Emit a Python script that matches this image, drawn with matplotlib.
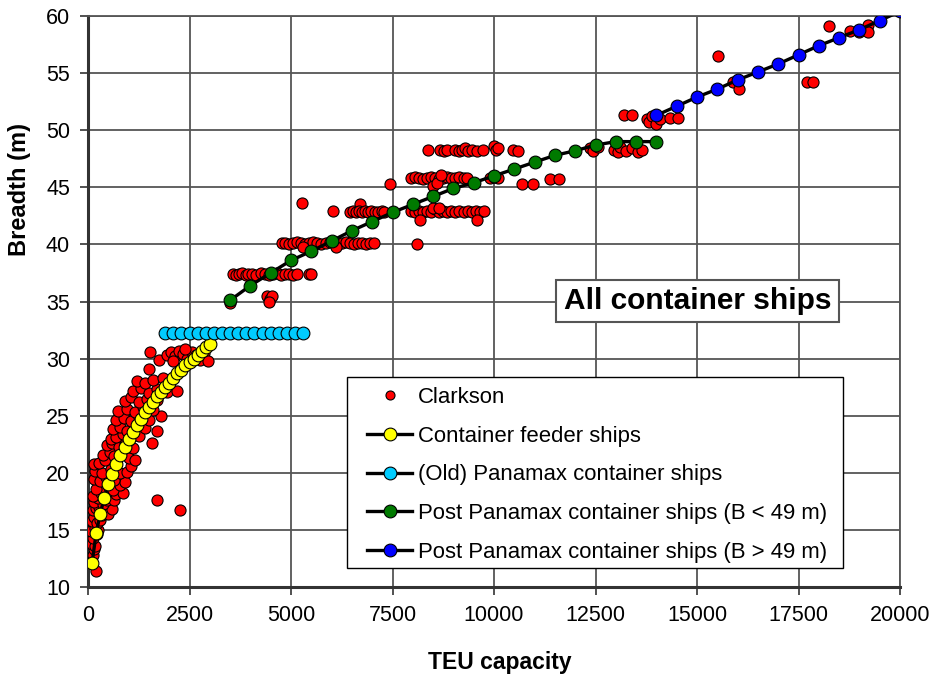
import matplotlib
matplotlib.use("Agg")
import matplotlib.pyplot as plt
from matplotlib.lines import Line2D
from matplotlib.patches import Rectangle

# ---------------- data ----------------
feeder_teu = [100, 200, 300, 400, 500, 600, 700, 800, 900, 1000, 1100, 1200, 1300, 1400, 1500,
              1600, 1700, 1800, 1900, 2000, 2100, 2200, 2300, 2400, 2500, 2600, 2700, 2800, 2900, 3000]
feeder_b = [12.1, 14.7, 16.4, 17.8, 19.0, 19.9, 20.8, 21.6, 22.3, 23.0, 23.6, 24.2, 24.7, 25.3, 25.8,
            26.2, 26.7, 27.1, 27.5, 27.9, 28.3, 28.7, 29.0, 29.4, 29.7, 30.0, 30.3, 30.7, 31.0, 31.3]

panamax_teu = [1900, 2100, 2300, 2500, 2700, 2900, 3100, 3300, 3500, 3700, 3900, 4100, 4300, 4500,
               4700, 4900, 5100, 5300]
panamax_b = [32.2] * 18

post_small_teu = [3500, 4000, 4500, 5000, 5500, 6000, 6500, 7000, 7500, 8000, 8500, 9000, 9500,
                  10000, 10500, 11000, 11500, 12000, 12500, 13000, 13500, 14000]
post_small_b = [35.1, 36.4, 37.5, 38.6, 39.4, 40.3, 41.2, 42.0, 42.8, 43.5, 44.2, 44.9, 45.4,
                46.0, 46.6, 47.2, 47.8, 48.2, 48.7, 49.0, 49.0, 49.0]

post_large_teu = [14000, 14500, 15000, 15500, 16000, 16500, 17000, 17500, 18000, 18500, 19000, 19500, 20000]
post_large_b = [51.3, 52.1, 52.9, 53.6, 54.4, 55.1, 55.8, 56.6, 57.4, 58.1, 58.8, 59.6, 60.4]

clarkson_points = [
    # feeder ships
    (200, 11.4), (120, 12.8), (150, 13.3), (100, 13.8), (180, 13.6), (130, 14.3), (220, 14.6),
    (80, 14.9), (170, 15.2), (250, 15.0), (100, 15.8), (160, 16.1), (230, 15.6), (300, 15.9),
    (350, 16.3), (420, 16.6), (500, 16.4), (600, 16.8), (130, 16.7), (200, 16.9), (280, 17.0),
    (150, 17.4), (380, 17.3), (250, 17.8), (460, 17.6), (550, 17.9), (650, 17.6), (120, 18.0),
    (320, 18.2), (420, 18.4), (700, 18.1), (860, 18.2), (200, 18.6), (520, 18.8), (620, 18.5),
    (780, 18.9), (900, 19.2), (150, 19.5), (300, 19.3), (450, 19.6), (650, 19.4), (180, 20.2),
    (350, 20.0), (560, 20.3), (800, 20.0), (950, 20.1), (160, 20.8), (270, 20.9), (420, 21.1),
    (700, 20.8), (1050, 20.6), (380, 21.6), (540, 21.8), (650, 21.5), (850, 21.7), (1000, 21.3),
    (1150, 21.1), (480, 22.4), (600, 22.6), (760, 22.3), (900, 22.5), (1100, 22.2), (560, 23.0),
    (700, 23.1), (850, 23.4), (1000, 22.9), (1250, 23.2), (620, 23.8), (780, 24.0), (950, 23.7),
    (1150, 24.1), (1400, 23.9), (700, 24.6), (880, 24.8), (1050, 24.5), (1250, 24.9), (1500, 24.6),
    (1800, 25.0), (750, 25.4), (950, 25.6), (1150, 25.3), (1350, 25.8), (1600, 25.5), (900, 26.3),
    (1050, 26.6), (1250, 26.2), (1450, 26.5), (1700, 26.4), (1100, 27.2), (1300, 27.4), (1500, 27.0),
    (1700, 27.3), (1950, 27.1), (2200, 27.2), (1200, 28.0), (1400, 27.9), (1600, 28.1), (1850, 28.3),
    (1500, 29.1), (1750, 29.9), (1530, 30.6), (1950, 30.3), (2050, 30.6), (2150, 30.2), (2250, 30.7),
    (2350, 30.4), (2450, 30.0), (2550, 30.6), (2650, 30.3), (2750, 29.9), (2850, 30.5), (2950, 29.8),
    (2100, 29.8), (2400, 30.8), (1707, 23.7), (1568, 22.6), (1692, 17.6), (2258, 16.7),
    # 3500 - 5500 TEU
    (3500, 34.9), (4400, 35.5), (4480, 35.2), (4540, 35.5), (4470, 35.0),
    (3580, 37.4), (3650, 37.3), (3720, 37.4), (3800, 37.5), (3880, 37.3), (3950, 37.4), (4050, 37.4),
    (4150, 37.3), (4250, 37.5), (4350, 37.4), (4450, 37.3), (4550, 37.4), (4650, 37.5), (4750, 37.3),
    (4850, 37.4), (4950, 37.4), (5050, 37.3), (5150, 37.4), (5450, 37.4), (5500, 37.4),
    # B ~ 40 row
    (4780, 40.1), (4860, 40.1), (4950, 40.0), (5050, 40.1), (5150, 40.2), (5250, 40.1), (5350, 40.0),
    (5450, 40.1), (5550, 40.2), (5650, 40.1), (5750, 40.0), (5850, 40.1), (5950, 40.2), (6050, 40.1),
    (6150, 40.0), (6250, 40.1), (6350, 40.2), (6450, 40.1), (6550, 40.0), (6650, 40.1), (6750, 40.1),
    (6850, 40.0), (6950, 40.1), (7050, 40.1), (5300, 39.8), (6100, 39.8), (8100, 40.0),
    # outliers
    (5263, 43.6), (6026, 42.9), (6700, 43.5), (7440, 45.3),
    # B ~ 42.8 row
    (6450, 42.8), (6530, 42.9), (6600, 42.8), (6680, 42.9), (6750, 42.8), (6830, 42.9), (6900, 42.8),
    (6980, 42.9), (7060, 42.8), (7150, 42.8), (7230, 42.9), (7300, 42.8),
    (7950, 42.9), (8050, 42.8), (8150, 42.9), (8250, 42.8), (8350, 42.9), (8450, 42.8), (8550, 43.1),
    (8650, 42.8), (8750, 42.9), (8850, 42.8), (8950, 42.9), (9050, 42.8), (9150, 42.9), (9250, 42.8),
    (9350, 42.9), (9450, 42.8), (9550, 42.9), (9650, 42.8), (9750, 42.9), (8180, 42.1), (9570, 42.1),
    (8500, 43.2), (8650, 43.2),
    # B ~ 45.8 row
    (7950, 45.8), (8050, 45.9), (8150, 45.8), (8250, 45.7), (8350, 45.8), (8450, 45.9), (8550, 45.8),
    (8650, 45.7), (8750, 45.8), (8850, 45.9), (8950, 45.8), (9050, 45.8), (9150, 45.9), (9250, 45.8),
    (9330, 45.8), (8500, 45.1), (8600, 45.4), (8700, 46.1), (9900, 45.8), (10000, 45.9), (10100, 45.8),
    (10700, 45.3), (10970, 45.3), (11380, 45.7), (11600, 45.7),
    # B ~ 48.3 row
    (8380, 48.3), (8680, 48.3), (8780, 48.2), (8840, 48.3), (9050, 48.3), (9130, 48.2), (9200, 48.3),
    (9280, 48.4), (9350, 48.2), (9450, 48.3), (9580, 48.2), (9730, 48.3), (9990, 48.6), (10050, 48.3),
    (10100, 48.4), (10480, 48.3), (10600, 48.2),
    # 12000 - 15000 TEU
    (12360, 48.4), (12450, 48.2), (12560, 48.5), (12950, 48.3), (13050, 48.1), (13100, 48.5),
    (13250, 48.2), (13400, 48.4), (13550, 48.1), (13650, 48.3),
    (13200, 51.3), (13390, 51.3), (13760, 51.0), (13830, 50.7), (13900, 51.2), (14000, 50.5),
    (14100, 51.0), (14330, 51.1), (14520, 51.1),
    # ultra large
    (15525, 56.5), (15895, 54.2), (16042, 53.6), (17700, 54.2), (17850, 54.2), (18260, 59.15),
    (18770, 58.7), (19000, 58.6), (19220, 59.2), (19220, 58.6),
]

clarkson_teu = [p[0] for p in clarkson_points]
clarkson_b = [p[1] for p in clarkson_points]

legend_labels = ["Clarkson", "Container feeder ships", "(Old) Panamax container ships",
                 "Post Panamax container ships (B < 49 m)", "Post Panamax container ships (B > 49 m)"]

# ---------------- figure ----------------
regular = ['Liberation Sans', 'DejaVu Sans']
W, H = 936, 679

fig = plt.figure(figsize=(9.36, 6.79), dpi=100)
ax = fig.add_axes([88 / W, 1 - 587 / H, 812 / W, 571 / H])
ax.set_xlim(0, 20000)
ax.set_ylim(10, 60)
ax.set_xticks(range(0, 20001, 2500))
ax.set_yticks(range(10, 61, 5))
ax.grid(True, color='#555555', lw=1.3)
ax.set_axisbelow(True)
for s in ['top', 'right']:
    ax.spines[s].set_color('#555555')
    ax.spines[s].set_linewidth(1.3)
for s in ['left', 'bottom']:
    ax.spines[s].set_color('#333333')
    ax.spines[s].set_linewidth(2.2)
ax.tick_params(direction='out', length=6, width=1.2, color='#333333', pad=7)
for lab in ax.get_xticklabels() + ax.get_yticklabels():
    lab.set_fontfamily(regular)
    lab.set_fontsize(15.5)

ax.plot(clarkson_teu, clarkson_b, 'o', ls='none', ms=8, mfc='#ff0000', mec='black', mew=0.8, zorder=3)

def series(x, y, c):
    ax.plot(x, y, '-o', color='black', lw=2.4, ms=9.2, mfc=c, mec='black', mew=0.8, zorder=4)

series(feeder_teu, feeder_b, '#ffff00')
series(panamax_teu, panamax_b, '#00ccff')
series(post_small_teu, post_small_b, '#007a00')
series(post_large_teu, post_large_b, '#0000ff')

# legend frame
fig.patches.append(Rectangle((347 / W, 1 - 568 / H), 496 / W, 191 / H, transform=fig.transFigure,
                             fc='white', ec='black', lw=1.0, zorder=9))

handles = [Line2D([], [], ls='none', marker='o', ms=6.5, mfc='#ff0000', mec='black', mew=0.8)]
for c in ['#ffff00', '#00ccff', '#007a00', '#0000ff']:
    handles.append(Line2D([], [], color='black', lw=2.4, marker='o', ms=9.2, mfc=c, mec='black', mew=0.8))
leg = fig.legend(handles, legend_labels, loc='upper left', bbox_to_anchor=(367 / W, 1 - 387 / H),
                 borderaxespad=0, frameon=False, borderpad=0,
                 prop={'family': regular, 'size': 15.9}, handlelength=2.05, handletextpad=0.25,
                 labelspacing=0.80)
leg.set_zorder(10)

ax.text((697.5 - 88) / 812, (587 - 301) / 571, "All container ships", transform=ax.transAxes,
        ha='center', va='center', fontsize=21.5, fontweight='bold', family=regular, zorder=10,
        bbox=dict(boxstyle='square,pad=0.25', fc='white', ec='#555555', lw=1.5))

fig.text(500 / W, 1 - 662 / H, "TEU capacity", ha='center', va='center', fontsize=16.5,
         fontweight='bold', family=regular)
fig.text(20 / W, 1 - 189 / H, "Breadth (m)", ha='center', va='center', rotation=90,
         fontsize=17, fontweight='bold', family=regular)

fig.savefig("out.png", dpi=100)
